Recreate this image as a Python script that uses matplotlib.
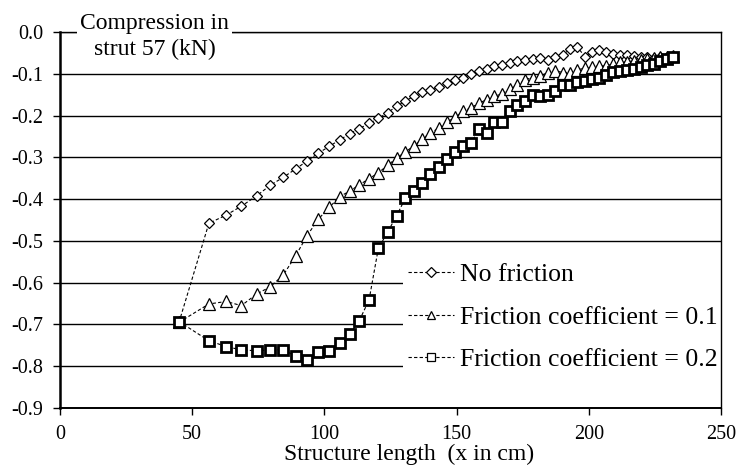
import matplotlib
matplotlib.use("Agg")
import matplotlib.pyplot as plt
from matplotlib.lines import Line2D

plt.rcParams['font.family'] = ['Liberation Serif', 'DejaVu Serif']

# structure length (cm), shared by all three runs
x_len = [45.0, 56.3, 62.9, 68.6, 74.4, 79.5, 84.4, 89.1, 93.4, 97.7,
         101.8, 105.8, 109.5, 113.2, 116.9, 120.4, 123.9, 127.3, 130.6, 133.8,
         137.0, 140.1, 143.2, 146.3, 149.4, 152.5, 155.5, 158.5, 161.4, 164.3,
         167.2, 170.1, 173.0, 175.9, 178.8, 181.7, 184.6, 187.4, 190.2, 193.0,
         195.7, 198.5, 201.2, 203.9, 206.6, 209.3, 211.9, 214.5, 217.1, 219.7,
         222.2, 224.7, 227.1, 229.5, 231.8]

no_friction = [-0.695, -0.458, -0.438, -0.417, -0.392, -0.367, -0.348, -0.328, -0.309, -0.290,
               -0.274, -0.258, -0.244, -0.231, -0.219, -0.207, -0.193, -0.178, -0.165, -0.154,
               -0.144, -0.138, -0.131, -0.123, -0.116, -0.109, -0.101, -0.094, -0.088, -0.082,
               -0.078, -0.074, -0.070, -0.067, -0.064, -0.062, -0.067, -0.060, -0.055, -0.040,
               -0.036, -0.059, -0.047, -0.044, -0.047, -0.052, -0.054, -0.056, -0.058, -0.060,
               -0.061, -0.062, -0.061, -0.060, -0.058]

friction_01 = [-0.695, -0.651, -0.645, -0.655, -0.627, -0.610, -0.582, -0.536, -0.488, -0.448,
               -0.420, -0.394, -0.381, -0.366, -0.351, -0.337, -0.319, -0.302, -0.287, -0.273,
               -0.256, -0.242, -0.230, -0.216, -0.204, -0.190, -0.181, -0.170, -0.162, -0.154,
               -0.148, -0.136, -0.128, -0.114, -0.109, -0.105, -0.097, -0.093, -0.097, -0.097,
               -0.090, -0.087, -0.083, -0.081, -0.081, -0.076, -0.073, -0.071, -0.069, -0.067,
               -0.065, -0.063, -0.061, -0.060, -0.058]

friction_02 = [-0.693, -0.739, -0.753, -0.761, -0.763, -0.761, -0.760, -0.776, -0.785, -0.767,
               -0.764, -0.745, -0.724, -0.691, -0.641, -0.518, -0.479, -0.440, -0.398, -0.380,
               -0.361, -0.341, -0.324, -0.305, -0.287, -0.273, -0.266, -0.232, -0.242, -0.215,
               -0.215, -0.189, -0.175, -0.165, -0.150, -0.153, -0.151, -0.141, -0.126, -0.127,
               -0.119, -0.117, -0.113, -0.111, -0.103, -0.096, -0.094, -0.090, -0.088, -0.084,
               -0.080, -0.076, -0.070, -0.064, -0.059]

labels = ['No friction', 'Friction coefficient = 0.1', 'Friction coefficient = 0.2']

fig = plt.figure(figsize=(7.38, 4.72), dpi=100)
ax = fig.add_axes([60 / 738, 1 - 408 / 472, 661 / 738, 376 / 472])

dash = (0, (3, 2))
ax.plot(x_len, no_friction, color='black', lw=0.8, ls=dash, marker='D', ms=5.5,
        mfc='white', mec='black', mew=0.9, zorder=3)
ax.plot(x_len, friction_01, color='black', lw=0.8, ls=dash, marker='^', ms=8,
        mfc='white', mec='black', mew=0.9, zorder=4)
ax.plot(x_len, friction_02, color='black', lw=0.8, ls=dash, marker='s', ms=6.5,
        mfc='white', mec='black', mew=2.0, zorder=5)

ax.set_xlim(0, 250)
ax.set_ylim(-0.9, 0.0)
ax.set_xticks([0, 50, 100, 150, 200, 250])
ax.set_yticks([0.0, -0.1, -0.2, -0.3, -0.4, -0.5, -0.6, -0.7, -0.8, -0.9])
ax.set_yticklabels(['0.0', '-0.1', '-0.2', '-0.3', '-0.4', '-0.5', '-0.6', '-0.7', '-0.8', '-0.9'])
ax.yaxis.grid(True, color='black', lw=1.0)
ax.set_axisbelow(True)
ax.tick_params(axis='both', direction='out', length=5, width=1, labelsize=14.5, pad=7)

for side in ['top', 'right']:
    ax.spines[side].set_linewidth(1.0)
ax.spines['left'].set_linewidth(1.8)
ax.spines['bottom'].set_linewidth(1.4)

ax.set_xlabel('Structure length  (x in cm)', fontsize=17)
ax.xaxis.set_label_coords(0.528, -0.095)

ax.text(0.143, 0.987, 'Compression in\nstrut 57 (kN)', transform=ax.transAxes,
        ha='center', va='center', fontsize=17, linespacing=1.3,
        bbox=dict(facecolor='white', edgecolor='none', pad=2), zorder=10)

handles = [
    Line2D([], [], color='black', lw=0.8, ls=dash, marker='D', ms=5, mfc='white', mec='black', mew=0.9),
    Line2D([], [], color='black', lw=0.8, ls=dash, marker='^', ms=6, mfc='white', mec='black', mew=0.9),
    Line2D([], [], color='black', lw=0.8, ls=dash, marker='s', ms=6, mfc='white', mec='black', mew=0.9),
]
leg = ax.legend(handles, labels, loc='upper left', bbox_to_anchor=(0.519, 0.398),
                frameon=True, facecolor='white', edgecolor='none', framealpha=1,
                fancybox=False, fontsize=18.5, handlelength=1.8, handletextpad=0.2,
                labelspacing=0.75, borderpad=0.2, borderaxespad=0)
# keep the legend above the grid but under the right spine
leg.set_zorder(2.4)

fig.savefig('out.png', dpi=100)
